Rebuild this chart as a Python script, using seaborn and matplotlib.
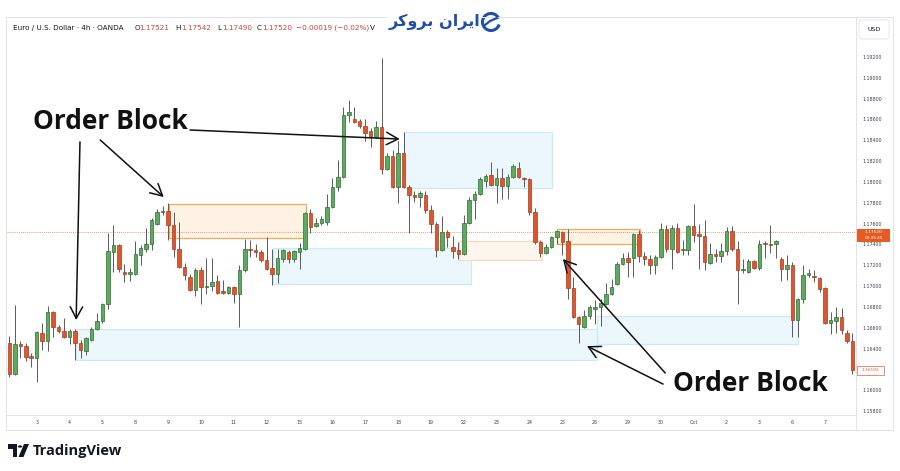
import numpy as np
import pandas as pd
import matplotlib
matplotlib.use("Agg")
import matplotlib.pyplot as plt
import seaborn as sns
from matplotlib.patches import Rectangle, FancyBboxPatch, Circle, Polygon, Arc
from matplotlib.lines import Line2D

# EUR/USD 4h candles (OANDA), 2 Sep -> 7 Oct
opens = [1.1645, 1.1616, 1.1644, 1.1642, 1.1633, 1.1631, 1.1655, 1.1647, 1.1675, 1.1661,
         1.1657, 1.1651, 1.1657, 1.1645, 1.1638, 1.1648, 1.1659, 1.1666, 1.1683, 1.1733,
         1.1739, 1.1714, 1.1712, 1.1712, 1.1730, 1.1736, 1.1740, 1.1760, 1.1771, 1.1772,
         1.1759, 1.1736, 1.1718, 1.1709, 1.1696, 1.1715, 1.1699, 1.1700, 1.1705, 1.1695,
         1.1693, 1.1699, 1.1692, 1.1715, 1.1736, 1.1735, 1.1733, 1.1725, 1.1717, 1.1712,
         1.1726, 1.1733, 1.1726, 1.1733, 1.1736, 1.1770, 1.1758, 1.1761, 1.1762, 1.1776,
         1.1795, 1.1805, 1.1864, 1.1860, 1.1859, 1.1854, 1.1849, 1.1843, 1.1853, 1.1812,
         1.1825, 1.1795, 1.1828, 1.1795, 1.1787, 1.1786, 1.1787, 1.1773, 1.1760, 1.1735,
         1.1752, 1.1738, 1.1735, 1.1731, 1.1761, 1.1783, 1.1788, 1.1801, 1.1807, 1.1797,
         1.1804, 1.1796, 1.1805, 1.1813, 1.1804, 1.1803, 1.1771, 1.1742, 1.1732, 1.1738,
         1.1747, 1.1752, 1.1743, 1.1698, 1.1670, 1.1661, 1.1671, 1.1678, 1.1680, 1.1683,
         1.1692, 1.1702, 1.1721, 1.1727, 1.1727, 1.1750, 1.1729, 1.1726, 1.1720, 1.1728,
         1.1755, 1.1736, 1.1756, 1.1735, 1.1735, 1.1758, 1.1750, 1.1748, 1.1722, 1.1731,
         1.1729, 1.1734, 1.1753, 1.1736, 1.1715, 1.1714, 1.1724, 1.1717, 1.1741, 1.1740,
         1.1740, 1.1726, 1.1716, 1.1720, 1.1667, 1.1688, 1.1711, 1.1710, 1.1708, 1.1698,
         1.1665, 1.1666, 1.1670, 1.1655, 1.1647]
highs = [1.1652, 1.1682, 1.1647, 1.1645, 1.1636, 1.1657, 1.1665, 1.1681, 1.1676, 1.1663,
         1.1669, 1.1659, 1.1659, 1.1648, 1.1651, 1.1661, 1.1674, 1.1684, 1.1751, 1.1759,
         1.1740, 1.1721, 1.1717, 1.1743, 1.1739, 1.1756, 1.1765, 1.1774, 1.1777, 1.1780,
         1.1771, 1.1762, 1.1722, 1.1712, 1.1717, 1.1718, 1.1727, 1.1727, 1.1711, 1.1706,
         1.1700, 1.1700, 1.1720, 1.1745, 1.1744, 1.1740, 1.1735, 1.1747, 1.1736, 1.1736,
         1.1736, 1.1735, 1.1735, 1.1741, 1.1771, 1.1774, 1.1765, 1.1767, 1.1788, 1.1804,
         1.1821, 1.1872, 1.1879, 1.1872, 1.1860, 1.1860, 1.1852, 1.1859, 1.1919, 1.1828,
         1.1831, 1.1839, 1.1848, 1.1797, 1.1791, 1.1791, 1.1791, 1.1778, 1.1762, 1.1767,
         1.1754, 1.1748, 1.1742, 1.1768, 1.1786, 1.1791, 1.1805, 1.1808, 1.1819, 1.1813,
         1.1813, 1.1808, 1.1817, 1.1819, 1.1805, 1.1804, 1.1775, 1.1744, 1.1740, 1.1748,
         1.1754, 1.1753, 1.1755, 1.1709, 1.1671, 1.1677, 1.1682, 1.1687, 1.1688, 1.1703,
         1.1707, 1.1723, 1.1732, 1.1733, 1.1751, 1.1754, 1.1733, 1.1730, 1.1730, 1.1761,
         1.1759, 1.1759, 1.1761, 1.1744, 1.1759, 1.1779, 1.1760, 1.1763, 1.1741, 1.1736,
         1.1741, 1.1757, 1.1758, 1.1743, 1.1726, 1.1726, 1.1725, 1.1744, 1.1743, 1.1759,
         1.1744, 1.1728, 1.1730, 1.1723, 1.1689, 1.1720, 1.1716, 1.1715, 1.1709, 1.1699,
         1.1675, 1.1680, 1.1679, 1.1658, 1.1655]
lows = [1.1613, 1.1615, 1.1631, 1.1628, 1.1622, 1.1608, 1.1639, 1.1638, 1.1651, 1.1655,
        1.1650, 1.1644, 1.1629, 1.1631, 1.1634, 1.1647, 1.1658, 1.1665, 1.1678, 1.1714,
        1.1714, 1.1704, 1.1705, 1.1711, 1.1720, 1.1733, 1.1735, 1.1759, 1.1768, 1.1744,
        1.1728, 1.1717, 1.1706, 1.1695, 1.1690, 1.1683, 1.1692, 1.1695, 1.1692, 1.1692,
        1.1692, 1.1684, 1.1661, 1.1714, 1.1728, 1.1728, 1.1723, 1.1715, 1.1701, 1.1703,
        1.1723, 1.1722, 1.1723, 1.1716, 1.1735, 1.1751, 1.1757, 1.1759, 1.1759, 1.1775,
        1.1791, 1.1804, 1.1858, 1.1857, 1.1852, 1.1839, 1.1834, 1.1842, 1.1808, 1.1811,
        1.1794, 1.1780, 1.1794, 1.1751, 1.1781, 1.1776, 1.1770, 1.1751, 1.1728, 1.1734,
        1.1738, 1.1727, 1.1726, 1.1730, 1.1760, 1.1764, 1.1787, 1.1795, 1.1796, 1.1780,
        1.1784, 1.1784, 1.1804, 1.1804, 1.1795, 1.1768, 1.1740, 1.1728, 1.1731, 1.1737,
        1.1740, 1.1730, 1.1688, 1.1669, 1.1645, 1.1660, 1.1668, 1.1664, 1.1662, 1.1682,
        1.1691, 1.1701, 1.1720, 1.1709, 1.1709, 1.1723, 1.1720, 1.1712, 1.1712, 1.1727,
        1.1733, 1.1716, 1.1732, 1.1730, 1.1730, 1.1742, 1.1716, 1.1715, 1.1721, 1.1723,
        1.1723, 1.1730, 1.1734, 1.1683, 1.1713, 1.1713, 1.1716, 1.1715, 1.1727, 1.1732,
        1.1727, 1.1705, 1.1706, 1.1651, 1.1651, 1.1684, 1.1709, 1.1704, 1.1694, 1.1664,
        1.1654, 1.1655, 1.1654, 1.1645, 1.1616]
closes = [1.1616, 1.1644, 1.1642, 1.1632, 1.1631, 1.1656, 1.1647, 1.1675, 1.1661, 1.1657,
          1.1651, 1.1657, 1.1645, 1.1639, 1.1650, 1.1659, 1.1666, 1.1683, 1.1734, 1.1739,
          1.1716, 1.1712, 1.1714, 1.1731, 1.1737, 1.1740, 1.1763, 1.1771, 1.1772, 1.1759,
          1.1736, 1.1718, 1.1711, 1.1696, 1.1715, 1.1699, 1.1700, 1.1704, 1.1693, 1.1693,
          1.1699, 1.1692, 1.1715, 1.1736, 1.1735, 1.1733, 1.1725, 1.1716, 1.1712, 1.1727,
          1.1735, 1.1726, 1.1734, 1.1737, 1.1770, 1.1757, 1.1761, 1.1764, 1.1776, 1.1795,
          1.1805, 1.1864, 1.1867, 1.1858, 1.1854, 1.1847, 1.1844, 1.1853, 1.1812, 1.1825,
          1.1795, 1.1828, 1.1795, 1.1787, 1.1786, 1.1789, 1.1773, 1.1760, 1.1735, 1.1752,
          1.1747, 1.1734, 1.1731, 1.1761, 1.1783, 1.1788, 1.1803, 1.1806, 1.1797, 1.1804,
          1.1796, 1.1805, 1.1815, 1.1805, 1.1803, 1.1771, 1.1742, 1.1732, 1.1738, 1.1747,
          1.1753, 1.1742, 1.1698, 1.1670, 1.1664, 1.1671, 1.1680, 1.1680, 1.1684, 1.1692,
          1.1699, 1.1721, 1.1727, 1.1723, 1.1750, 1.1729, 1.1726, 1.1720, 1.1728, 1.1755,
          1.1736, 1.1756, 1.1733, 1.1736, 1.1758, 1.1749, 1.1748, 1.1723, 1.1731, 1.1729,
          1.1734, 1.1753, 1.1736, 1.1715, 1.1716, 1.1724, 1.1717, 1.1740, 1.1740, 1.17395,
          1.1743, 1.1716, 1.1720, 1.1667, 1.1688, 1.1711, 1.1713, 1.1709, 1.1697, 1.1665,
          1.1667, 1.1670, 1.1658, 1.1647, 1.1619]

# time axis: one label per trading day, 6 bars per day
day_labels = ["3", "4", "5", "8", "9", "10", "11", "12", "15", "16", "17", "18", "19",
              "22", "23", "24", "25", "26", "29", "30", "Oct", "2", "3", "6", "7"]
first_day_bar = 5
bars_per_day = 6

price_ticks = [1.158, 1.160, 1.164, 1.166, 1.168, 1.170, 1.172, 1.174, 1.176,
               1.178, 1.180, 1.182, 1.184, 1.186, 1.188, 1.190, 1.192]

# order blocks drawn on the chart: bar span and price span
ob_start = [12.2, 29.2, 48.2, 72.1, 82.2, 100.1, 107.3]
ob_end = [107.3, 54.1, 84.3, 99.1, 97.2, 115.1, 144.1]
ob_top = [1.16585, 1.17785, 1.17363, 1.18483, 1.17433, 1.17545, 1.16713]
ob_bottom = [1.16290, 1.17465, 1.17020, 1.17939, 1.17247, 1.17401, 1.16444]
ob_kind = ["blue", "orange", "blue", "blue", "orange_faint", "orange", "blue"]

last_price = 1.17520
last_close = 1.16192

df = pd.DataFrame({"open": opens, "high": highs, "low": lows, "close": closes})
df["bar"] = np.arange(len(df))
df["up"] = df["close"] >= df["open"]
df["body_low"] = df[["open", "close"]].min(axis=1)
df["body_h"] = (df["close"] - df["open"]).abs().clip(lower=0.00005)

sns.set_theme(style="white")
plt.rcParams["font.family"] = ["DejaVu Sans"]

W, H = 900, 471
fig = plt.figure(figsize=(9, 4.71), dpi=100)
fig.patch.set_facecolor("white")


def fx(x):
    return x / W


def fy(y):
    return 1 - y / H


ax = fig.add_axes([fx(6), fy(415), (856 - 6) / W, (415 - 17) / H])
ax.set_facecolor("white")
ax.set_xlim(-0.61, 154.64)
ax.set_ylim(1.15762, 1.19584)

# order block boxes
box_style = {
    "blue": dict(fc="#ebf7fc", ec="#cde9f3", lw=0.9),
    "orange": dict(fc="#fdf2e4", ec="#eeac5a", lw=0.9),
    "orange_faint": dict(fc="#fdf6ee", ec="#f6d9b8", lw=0.8),
}
for s, e, t, b, k in zip(ob_start, ob_end, ob_top, ob_bottom, ob_kind):
    ax.add_patch(Rectangle((s, b), e - s, t - b, zorder=1, **box_style[k]))

# current price line
ax.axhline(last_price, color="#e8782f", lw=0.6, ls=(0, (1, 1.5)), zorder=1.5)

# candles
green, green_edge = "#5cab5e", "#2f6b33"
red, red_edge = "#e0552d", "#a33d1e"
ax.vlines(df["bar"], df["low"], df["high"], color="#5a5a5a", lw=0.7, zorder=2)
up = df[df["up"]]
dn = df[~df["up"]]
ax.bar(up["bar"], up["body_h"], bottom=up["body_low"], width=0.64,
       color=green, edgecolor=green_edge, linewidth=0.5, zorder=3)
ax.bar(dn["bar"], dn["body_h"], bottom=dn["body_low"], width=0.64,
       color=red, edgecolor=red_edge, linewidth=0.5, zorder=3)

# axes / ticks in TradingView style
for sp in ax.spines.values():
    sp.set_visible(False)
ax.yaxis.tick_right()
ax.set_yticks(price_ticks)
ax.set_yticklabels([f"{p:.5f}" for p in price_ticks])
ax.tick_params(axis="y", length=0, pad=4.3, labelsize=3.4, labelcolor="#3b3f4a")
ax.set_xticks([first_day_bar + i * bars_per_day for i in range(len(day_labels))])
ax.set_xticklabels(day_labels)
ax.tick_params(axis="x", length=0, pad=3.6, labelsize=3.4, labelcolor="#3b3f4a")
ax.grid(False)

# annotations
txt = dict(fontsize=19, fontweight="bold", color="#111111",
           family=["Open Sans", "DejaVu Sans"], ha="center", va="center", zorder=6)
ax.text(18.4, 1.18576, "Order Block", **txt)
ax.text(135.3, 1.16069, "Order Block", **txt)
arrows = [((12.9, 1.18384), (12.2, 1.16674)),
          ((16.6, 1.18403), (28.2, 1.17855)),
          ((33.0, 1.18499), (71.3, 1.18412)),
          ((119.8, 1.16165), (101.1, 1.17260)),
          ((119.4, 1.16059), (105.5, 1.16424))]
for start, end in arrows:
    ax.annotate("", xy=end, xytext=start, zorder=6,
                arrowprops=dict(arrowstyle="->,head_length=0.6,head_width=0.32",
                                color="#111111", lw=1.1, shrinkA=0, shrinkB=0,
                                mutation_scale=14))

# price labels on the right scale
yax = ax.get_yaxis_transform()
ax.add_patch(Rectangle((1.0012, 1.17426), 0.039, 0.00125, transform=yax,
                       fc="#e65a24", ec="none", clip_on=False, zorder=7))
ax.text(1.0207, last_price, f"{last_price:.5f}", transform=yax, ha="center",
        va="center", fontsize=3.1, color="white", zorder=8, clip_on=False)
ax.text(1.0207, 1.17457, "03:35:45", transform=yax, ha="center", va="center",
        fontsize=3.0, color="white", zorder=8, clip_on=False)
ax.add_patch(Rectangle((1.0008, 1.16146), 0.032, 0.00089, transform=yax,
                       fc="white", ec="#e2603a", lw=0.5, clip_on=False, zorder=7))
ax.text(1.0168, last_close, f"{last_close:.5f}", transform=yax, ha="center",
        va="center", fontsize=3.1, color="#d8502c", zorder=8, clip_on=False)

# chart frame lines
grey = "#e0e3eb"
for x0, y0, x1, y1 in [(6, 17, 893, 17), (6, 430, 893, 430), (6, 17, 6, 430),
                       (893, 17, 893, 430), (856, 17, 856, 430), (6, 415, 856, 415)]:
    fig.add_artist(Line2D([fx(x0), fx(x1)], [fy(y0), fy(y1)], color=grey, lw=0.7))

fig.add_artist(FancyBboxPatch((fx(859), fy(39)), fx(30), 19 / H,
                              boxstyle="round,pad=0,rounding_size=0.004",
                              fc="white", ec=grey, lw=0.6))
fig.text(fx(874), fy(29.5), "USD", ha="center", va="center", fontsize=4.6, color="#131722")

# header line
hdr = [(12.7, "Euro / U.S. Dollar · 4h · OANDA", "#131722"),
       (134.3, "O", "#131722"), (139.0, "1.17521", "#c8423f"),
       (175.7, "H", "#131722"), (181.0, "1.17542", "#c8423f"),
       (217.0, "L", "#131722"), (221.7, "1.17490", "#c8423f"),
       (256.7, "C", "#131722"), (262.0, "1.17520", "#c8423f"),
       (296.0, "\u22120.00019 (\u22120.02%)", "#c8423f"), (370.0, "V", "#131722")]
for x, s, c in hdr:
    fig.text(fx(x), fy(28), s, ha="left", va="center", fontsize=5.2, color=c)

# broker logo (Persian, shaped glyphs in visual order)
logo_fa = "\uFEAE\uFB90\uFEED\uFEAE\uFE91 \uFEE5\uFE8D\uFEAE\uFBFE\uFE8D"
fig.text(fx(434), fy(22), logo_fa, ha="center", va="center", fontsize=11.5,
         fontweight="bold", color="#1f4fa8", family=["DejaVu Sans"],
         bbox=dict(fc="white", ec="none", pad=1))
fig.add_artist(Circle((fx(491), fy(22)), 3 / W, fc="white", ec="none"))
fig.add_artist(Arc((fx(491), fy(22)), 17 / W, 17 / H, theta1=40, theta2=330,
                   color="#1f4fa8", lw=2.2))
fig.add_artist(Line2D([fx(485), fx(490), fx(497)], [fy(25), fy(21), fy(18)],
                      color="#1f4fa8", lw=1.6))

# TradingView footer logo
dark = "#131722"
fig.add_artist(Rectangle((fx(8), fy(448.5)), fx(9), 4.5 / H, fc=dark, ec="none"))
fig.add_artist(Rectangle((fx(12.5), fy(457)), fx(4.5), 13 / H, fc=dark, ec="none"))
fig.add_artist(Circle((fx(20), fy(446.5)), 2.2 / W, fc=dark, ec="none"))
fig.add_artist(Polygon([(fx(24), fy(444)), (fx(29), fy(444)), (fx(23.5), fy(457)),
                        (fx(18.5), fy(457))], closed=True, fc=dark, ec="none"))
fig.text(fx(33), fy(451), "TradingView", ha="left", va="center", fontsize=10.5,
         fontweight="bold", color=dark, family=["Open Sans", "DejaVu Sans"])

fig.savefig("out.png", dpi=100, facecolor="white")
